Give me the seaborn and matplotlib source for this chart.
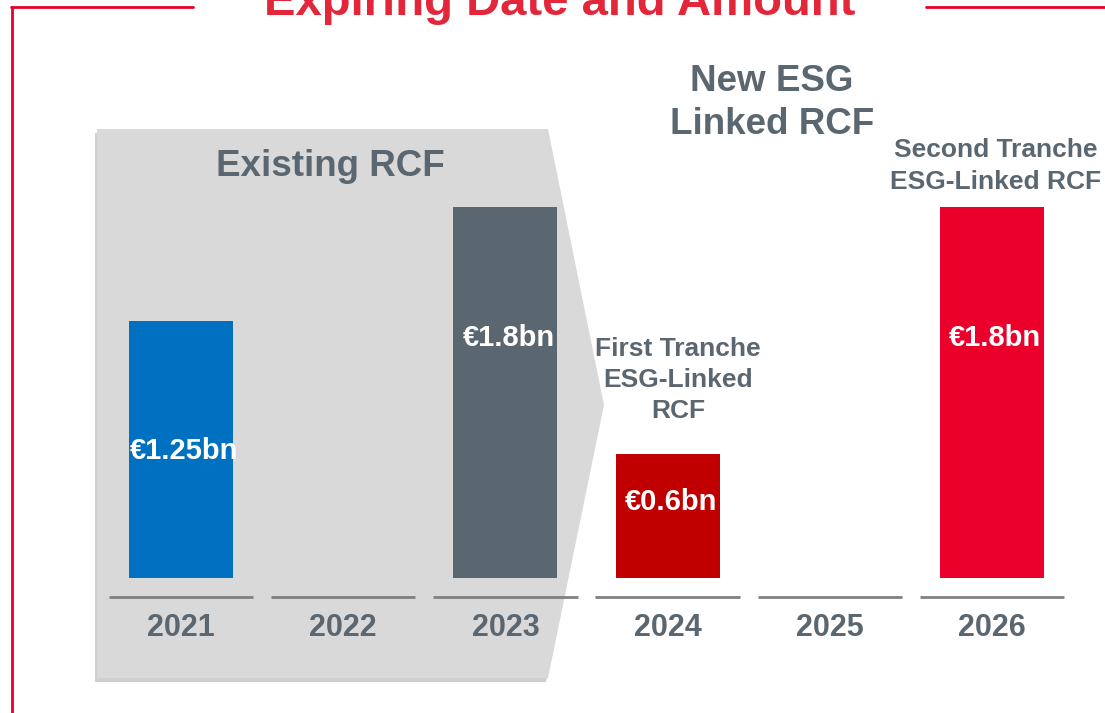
import numpy as np
import pandas as pd
import matplotlib.pyplot as plt
from matplotlib.patches import Polygon
from matplotlib.lines import Line2D
import seaborn as sns

sns.set_theme(style='white')
plt.rcParams['font.family'] = ['Liberation Sans', 'DejaVu Sans']

# data
years = ['2021', '2022', '2023', '2024', '2025', '2026']
amounts = [1.25, 0.0, 1.8, 0.6, 0.0, 1.8]
value_labels = ['€1.25bn', '', '€1.8bn', '€0.6bn', '', '€1.8bn']
bar_colors = ['#0070c0', '#0070c0', '#5b6770', '#c00000', '#c00000', '#ea002a']

title = 'Expiring Date and Amount'
grey_txt = '#5b6770'
red = '#e8002d'

W, H = 1105, 713
fig = plt.figure(figsize=(W / 100, H / 100), dpi=100)
ax = fig.add_axes([0, 0, 1, 1])

# pixel -> data helpers (x: 162.2 px per category, y: 206 px per bn)
PX, PY, X0, Y0 = 162.2, 206.0, 181.0, 578.0
dx = lambda p: (p - X0) / PX
dy = lambda p: (Y0 - p) / PY

# grey "existing RCF" arrow panel with a soft shadow
panel = [(97, 129), (548, 129), (604, 405), (548, 678), (97, 678)]
shadow = Polygon([(dx(x - 2), dy(y + 4)) for x, y in panel], closed=True,
                 facecolor='#a9a9a9', edgecolor='none', alpha=0.55, zorder=0)
ax.add_patch(shadow)
ax.add_patch(Polygon([(dx(x), dy(y)) for x, y in panel], closed=True,
                     facecolor='#d9d9d9', edgecolor='none', zorder=1))

df = pd.DataFrame({'year': years, 'amount': amounts})
sns.barplot(data=df, x='year', y='amount', hue='year', palette=bar_colors,
            order=years, width=0.64, legend=False, saturation=1,
            linewidth=0, edgecolor='none', ax=ax, zorder=3)

# baseline segments under each year
for i, y in enumerate(years):
    ax.plot([i - 0.445, i + 0.445], [dy(597)] * 2, color='#808080', lw=2, zorder=3,
            solid_capstyle='butt')
    ax.text(i, dy(628), y, ha='center', va='center', fontsize=22,
            fontweight='bold', color=grey_txt, zorder=4)

# values in bars
label_y = [dy(451), 0, dy(338), dy(502), 0, dy(338)]
for i, lab in enumerate(value_labels):
    if lab:
        ax.text(i + 0.02, label_y[i], lab, ha='center', va='center', fontsize=21,
                fontweight='bold', color='white', zorder=5)

ax.text(dx(330), dy(166), 'Existing RCF', ha='center', va='center', fontsize=26.5,
        fontweight='bold', color=grey_txt, zorder=4)
ax.text(dx(772), dy(103), 'New ESG\nLinked RCF', ha='center', va='center',
        fontsize=26.5, fontweight='bold', color=grey_txt, linespacing=1.32, zorder=4)
ax.text(dx(996), dy(166), 'Second Tranche\nESG-Linked RCF', ha='center', va='center',
        fontsize=19, fontweight='bold', color=grey_txt, linespacing=1.38, zorder=4)
ax.text(dx(678), dy(380), 'First Tranche\nESG-Linked\nRCF', ha='center', va='center',
        fontsize=19, fontweight='bold', color=grey_txt, linespacing=1.38, zorder=4)

ax.set_xlim(dx(0), dx(W))
ax.set_ylim(dy(H), dy(0))
ax.axis('off')

# red frame and cut-off title
fx = lambda p: p / W
fy = lambda p: 1 - p / H
for xs, ys in [([12, 12], [7, H]), ([11, 193], [7, 7]), ([926, W], [7, 7])]:
    fig.add_artist(Line2D([fx(v) for v in xs], [fy(v) for v in ys],
                          color=red, lw=2))
fig.text(fx(560), fy(15), title, ha='center', va='baseline', fontsize=34,
         fontweight='bold', color='#e3263a')

fig.savefig('out.png', dpi=100)
